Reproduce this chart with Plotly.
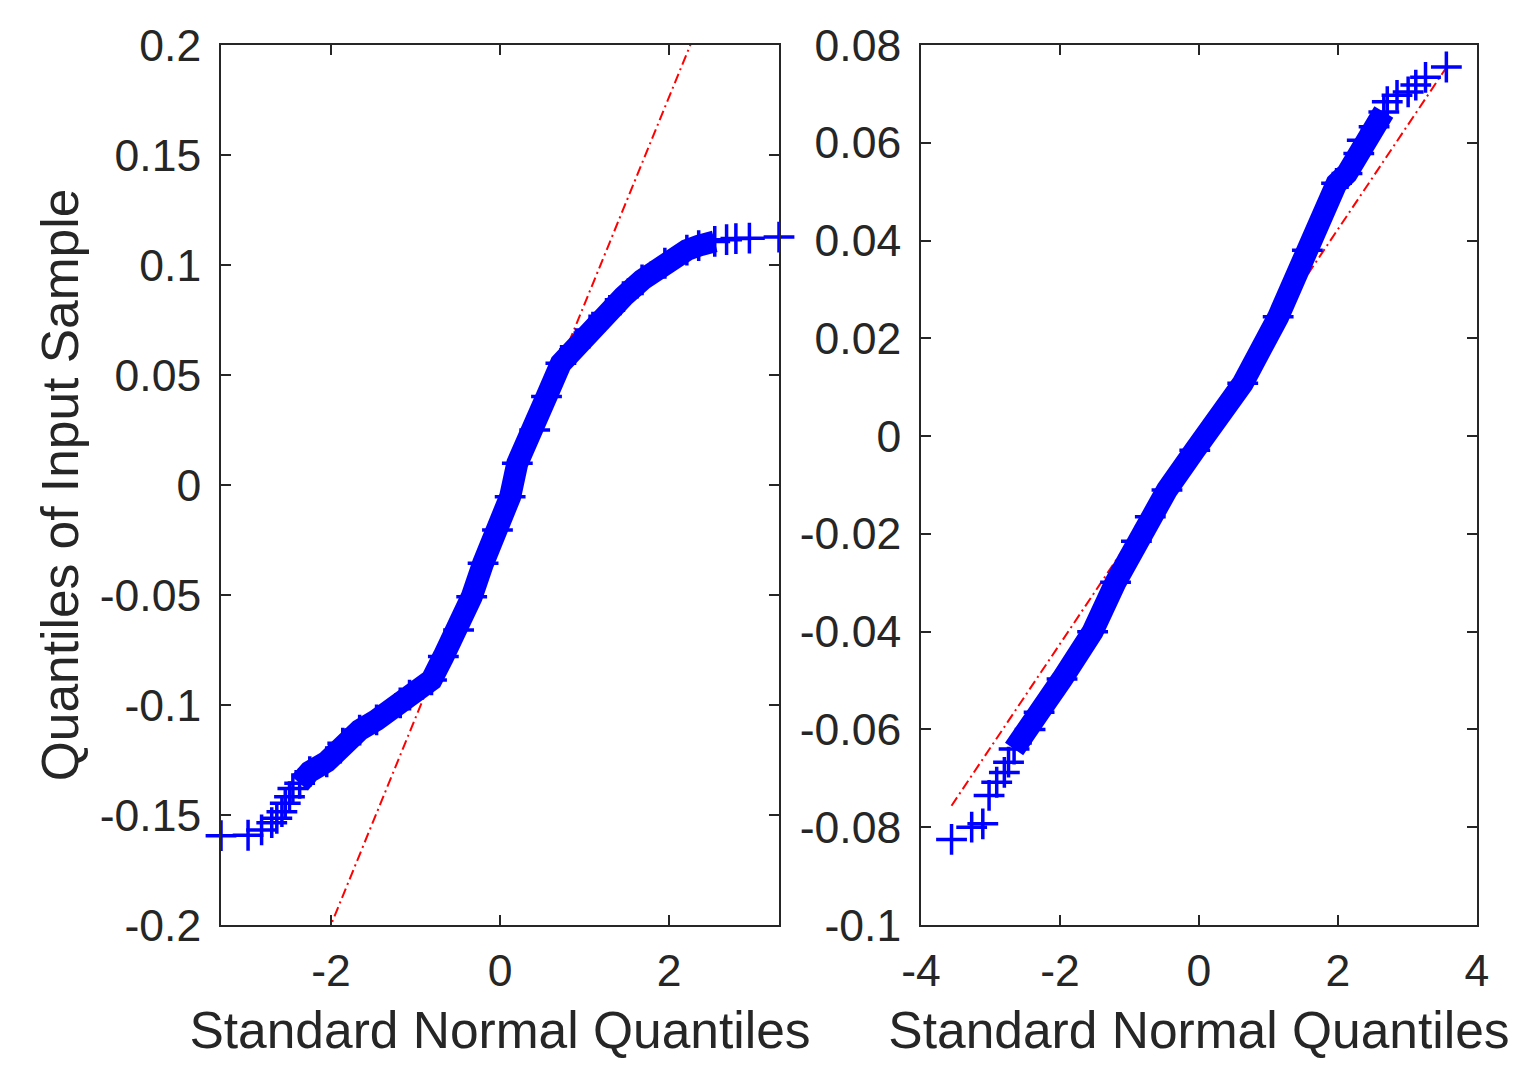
import plotly.graph_objects as go

# Left QQ plot: (standard normal quantile, sample quantile) pairs
left_x = [-3.30, -2.98, -2.82, -2.70, -2.64, -2.58, -2.54, -2.49, -2.45, -2.37,
          -2.25, -2.05, -1.86, -1.66, -1.46, -1.18, -1.07, -0.81, -0.67, -0.49,
          -0.335, -0.20, -0.03, 0.12, 0.205, 0.41, 0.55, 0.72, 0.89, 1.065,
          1.26, 1.46, 1.68, 1.95, 2.21, 2.35,
          2.54, 2.68, 2.79, 2.95, 3.30]
left_y = [-0.1594, -0.1592, -0.1568, -0.1535, -0.1515, -0.1485, -0.1447, -0.1417, -0.1380, -0.1356,
          -0.1303, -0.1258, -0.1174, -0.1114, -0.1068, -0.0990, -0.0955, -0.0886, -0.0780, -0.0659,
          -0.0508, -0.0356, -0.0205, -0.0053, 0.0099, 0.0250, 0.0402, 0.0553, 0.0629, 0.0705,
          0.0780, 0.0856, 0.0932, 0.1008, 0.1068, 0.1088,
          0.1107, 0.1115, 0.1120, 0.1122, 0.1127]
left_band = slice(9, 37)   # where the markers pile up into a solid band

# reference line through the quartiles, spanning the data range
left_ref_x = [-3.30, 3.30]
left_ref_y = [-0.3223, 0.2987]

# Right QQ plot
right_x = [-3.56, -3.27, -3.11, -3.02, -2.91, -2.80, -2.74, -2.66,
           -2.43, -2.30, -1.97, -1.53, -1.20, -0.90, -0.70, -0.46, -0.06, 0.63,
           1.14, 1.56, 1.98, 2.13, 2.30, 2.35, 2.52,
           2.66, 2.71, 2.85, 3.01, 3.12, 3.26, 3.56]
right_y = [-0.0825, -0.0800, -0.0793, -0.0735, -0.0708, -0.0688, -0.0667, -0.0640,
           -0.0600, -0.0565, -0.0497, -0.0400, -0.0299, -0.0215, -0.0165, -0.0110, -0.0029, 0.0108,
           0.0244, 0.0380, 0.0517, 0.0537, 0.0578, 0.0605, 0.0633,
           0.0663, 0.0684, 0.0697, 0.0704, 0.0718, 0.0734, 0.0755]
right_band = slice(7, 26)

right_ref_x = [-3.56, 3.56]
right_ref_y = [-0.0756, 0.0754]

# tick labels (MATLAB style hyphen minus)
left_xticks = [-2, 0, 2]
left_xtext = ["-2", "0", "2"]
left_yticks = [0.2, 0.15, 0.1, 0.05, 0, -0.05, -0.1, -0.15, -0.2]
left_ytext = ["0.2", "0.15", "0.1", "0.05", "0", "-0.05", "-0.1", "-0.15", "-0.2"]
right_xticks = [-4, -2, 0, 2, 4]
right_xtext = ["-4", "-2", "0", "2", "4"]
right_yticks = [0.08, 0.06, 0.04, 0.02, 0, -0.02, -0.04, -0.06, -0.08, -0.1]
right_ytext = ["0.08", "0.06", "0.04", "0.02", "0", "-0.02", "-0.04", "-0.06", "-0.08", "-0.1"]

FONT = "Liberation Sans, Arial, Helvetica, sans-serif"
INK = "#262626"
BLUE = "#0000ff"

fig = go.Figure()

panels = [
    (left_x, left_y, left_band, left_ref_x, left_ref_y, "x", "y"),
    (right_x, right_y, right_band, right_ref_x, right_ref_y, "x2", "y2"),
]
for qx, qy, band, rx, ry, xa, ya in panels:
    # red dash-dot reference line
    fig.add_trace(go.Scatter(
        x=rx, y=ry, mode="lines", xaxis=xa, yaxis=ya,
        line=dict(color="red", width=2, dash="10px,4px,2px,4px"),
    ))
    # dense middle part drawn as a thick stroke
    fig.add_trace(go.Scatter(
        x=qx[band], y=qy[band], mode="lines", xaxis=xa, yaxis=ya,
        line=dict(color=BLUE, width=22),
    ))
    # '+' markers
    fig.add_trace(go.Scatter(
        x=qx, y=qy, mode="markers", xaxis=xa, yaxis=ya, cliponaxis=False,
        marker=dict(symbol="cross-thin", size=22, color=BLUE,
                    line=dict(color=BLUE, width=3.5)),
    ))

axis_common = dict(
    showline=True, linecolor=INK, linewidth=1.8, mirror="allticks",
    ticks="inside", ticklen=10, tickwidth=1.8, tickcolor=INK,
    showgrid=False, zeroline=False, automargin=False,
    tickfont=dict(family=FONT, size=44.5, color=INK),
)
title_font = dict(family=FONT, size=51.5, color=INK)

# page body adds an 8px offset, so the domains are pulled back by that much
fig.update_layout(
    width=1538, height=1073,
    margin=dict(l=0, r=0, t=0, b=0),
    paper_bgcolor="white", plot_bgcolor="white",
    showlegend=False,
    xaxis=dict(domain=[0.1385, 0.5013], range=[-3.30, 3.30],
               tickvals=left_xticks, ticktext=left_xtext, ticklabelstandoff=6,
               title=dict(text="Standard Normal Quantiles", font=title_font, standoff=18),
               **axis_common),
    yaxis=dict(domain=[0.1454, 0.9655], range=[-0.2, 0.2],
               tickvals=left_yticks, ticktext=left_ytext, ticklabelstandoff=9,
               title=dict(text="Quantiles of Input Sample", font=title_font, standoff=5),
               **axis_common),
    xaxis2=dict(domain=[0.5936, 0.9551], range=[-4, 4], anchor="y2",
                tickvals=right_xticks, ticktext=right_xtext, ticklabelstandoff=6,
                title=dict(text="Standard Normal Quantiles", font=title_font, standoff=18),
                **axis_common),
    yaxis2=dict(domain=[0.1454, 0.9655], range=[-0.1, 0.08], anchor="x2",
                tickvals=right_yticks, ticktext=right_ytext, ticklabelstandoff=9,
                **axis_common),
)

fig.write_html("out.html")
